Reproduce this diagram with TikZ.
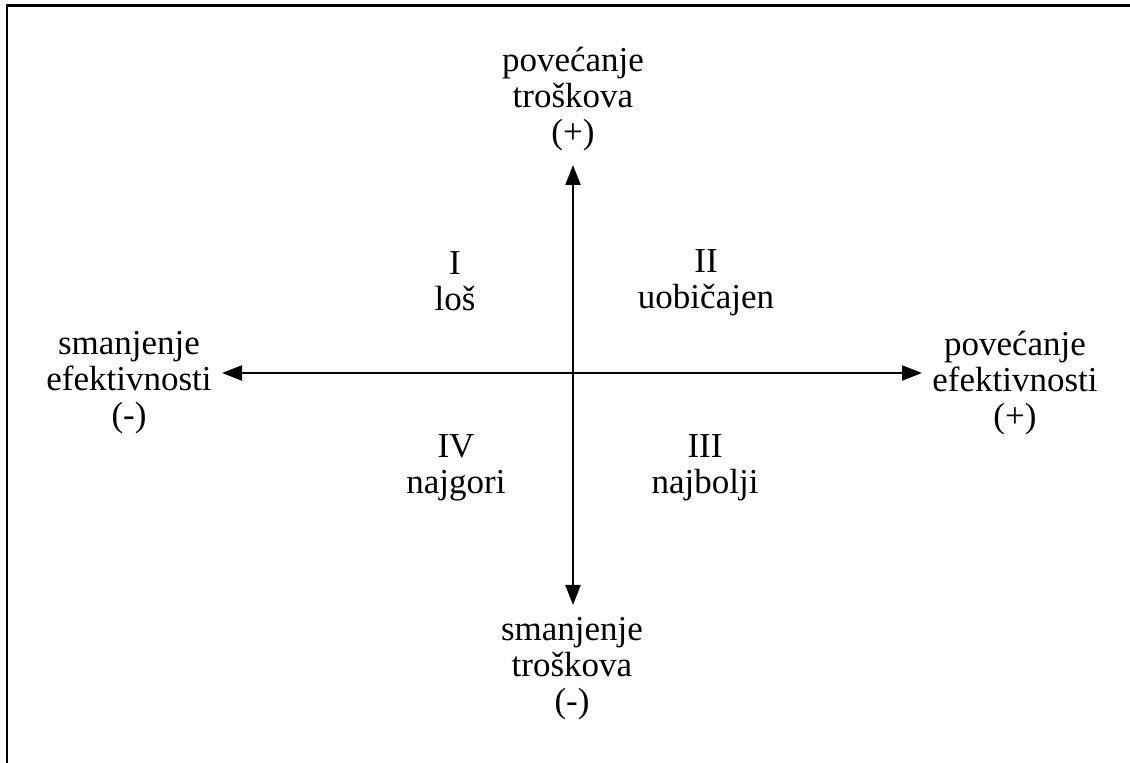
\documentclass[tikz,border=0pt]{standalone}
\usepackage{fontspec}
\setmainfont{Liberation Serif}
\usetikzlibrary{arrows.meta}
\begin{document}
\begin{tikzpicture}[x=0.5pt,y=-0.5pt,
    axis/.style={line width=1.1pt,{Triangle[length=10pt,width=7.5pt]}-{Triangle[length=10pt,width=7.5pt]}},
    lbl/.style={align=center,inner sep=0pt,font=\fontsize{17.5pt}{18pt}\selectfont}]
  \useasboundingbox (0,0) rectangle (1130,763);
  \draw[line width=1.2pt] (7,763) -- (7,5.5) -- (1130,5.5);
  % axes
  \coordinate (N) at (573,165);
  \coordinate (S) at (573,605);
  \coordinate (W) at (222,373);
  \coordinate (E) at (922,373);
  \draw[axis] (W) -- (E);
  \draw[axis] (S) -- (N);
  % axis labels
  \node[lbl] (costup) at (573,99) {povećanje\\troškova\\(+)};
  \node[lbl] (costdown) at (572,669) {smanjenje\\troškova\\(-)};
  \node[lbl] (effdown) at (129,383) {smanjenje\\efektivnosti\\(-)};
  \node[lbl] (effup) at (1015,383) {povećanje\\efektivnosti\\(+)};
  % quadrants
  \node[lbl] (q1) at (455,281) {I\\loš};
  \node[lbl] (q2) at (706,283) {II\\uobičajen};
  \node[lbl] (q3) at (705,468) {III\\najbolji};
  \node[lbl] (q4) at (456,468) {IV\\najgori};
\end{tikzpicture}
\end{document}
